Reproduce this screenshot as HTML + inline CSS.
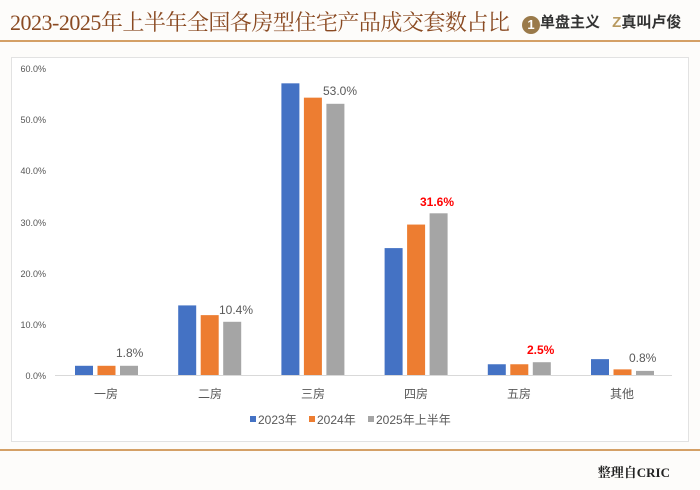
<!DOCTYPE html>
<html><head><meta charset="utf-8"><style>
body{margin:0;width:700px;height:490px;background:#fdfcfa;position:relative;overflow:hidden;font-family:"Liberation Sans","Noto Sans CJK SC",sans-serif}
.title{position:absolute;left:10px;top:6px;font-family:"Liberation Serif","Noto Serif CJK SC",serif;font-size:22px;color:#8a4a22;letter-spacing:-0.5px;white-space:nowrap}
.line{position:absolute;left:0;width:700px;height:2px;background:#d4a066}
.box{position:absolute;left:11px;top:57px;width:676px;height:383px;background:#fff;border:1px solid #e2e2e2}
.src{position:absolute;right:30px;top:462px;font-family:"Liberation Serif","Noto Serif CJK SC",serif;font-size:13px;font-weight:bold;color:#222}
</style></head><body>
<div class="title">2023-2025年上半年全国各房型住宅产品成交套数占比</div>
<div style="position:absolute;left:522px;top:11px;font-size:15px;font-weight:bold;color:#333;white-space:nowrap"><span style="display:inline-block;width:18px;height:18px;border-radius:50%;background:#9a7a4a;color:#fff;text-align:center;font-size:13px;line-height:18px;vertical-align:-2px">1</span>单盘主义 <span style="color:#b89a60;margin-left:8px">Z</span>真叫卢俊</div>
<div class="line" style="top:40px"></div>
<div class="box"></div>
<svg style="position:absolute;left:0;top:0" width="700" height="490" font-family="Liberation Sans, Noto Sans CJK SC, sans-serif">
<g font-size="9" fill="#555" text-anchor="end">
<text x="46" y="72">60.0%</text><text x="46" y="123">50.0%</text><text x="46" y="174">40.0%</text><text x="46" y="226">30.0%</text><text x="46" y="277">20.0%</text><text x="46" y="328">10.0%</text><text x="46" y="379">0.0%</text>
</g>
<line x1="55" y1="375.5" x2="672" y2="375.5" stroke="#d9d9d9"/>
<g id="bars"></g>
<g font-size="12" fill="#595959" text-anchor="middle">
<text x="106" y="398">一房</text><text x="210" y="398">二房</text><text x="313" y="398">三房</text><text x="416" y="398">四房</text><text x="519" y="398">五房</text><text x="622" y="398">其他</text>
</g>
<g font-size="12" fill="#595959">
<text x="116" y="357">1.8%</text><text x="219" y="314">10.4%</text><text x="323" y="95">53.0%</text><text x="629" y="362">0.8%</text>
</g>
<g font-size="12" fill="#ff0000" font-weight="bold">
<text x="420" y="206">31.6%</text><text x="527" y="354">2.5%</text>
</g>
<g font-size="12" fill="#595959">
<rect x="250" y="416" width="6" height="6" fill="#4472c4"/><text x="258" y="424">2023年</text>
<rect x="309" y="416" width="6" height="6" fill="#ed7d31"/><text x="317" y="424">2024年</text>
<rect x="368" y="416" width="6" height="6" fill="#a5a5a5"/><text x="376" y="424">2025年上半年</text>
</g>
</svg>
<div class="line" style="top:449px"></div>
<div class="src">整理自CRIC</div>
<script>
var d=[[1.8,1.8,1.8],[13.6,11.7,10.4],[57,54.2,53.0],[24.8,29.4,31.6],[2.1,2.1,2.5],[3.1,1.1,0.8]];
var c=["#4472c4","#ed7d31","#a5a5a5"],s="";
d.forEach(function(v,i){var cx=106+i*103.2;v.forEach(function(x,j){var h=x*5.117;s+='<rect x="'+(cx-31+j*22.5)+'" y="'+(375-h)+'" width="18" height="'+h+'" fill="'+c[j]+'"/>';});});
document.getElementById("bars").innerHTML=s;
</script>
</body></html>
